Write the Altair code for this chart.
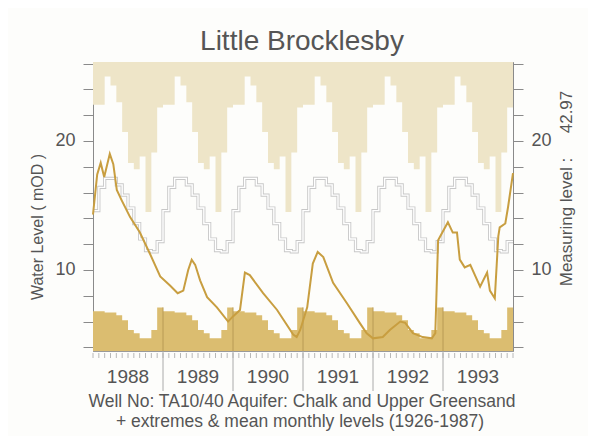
import altair as alt
import pandas as pd

# ---------------- data ----------------
years = [1988, 1989, 1990, 1991, 1992, 1993]
# long-term monthly extremes and mean (1926-1987), Jan..Dec, mOD
month_max = [22.8, 22.8, 25.0, 24.3, 23.0, 20.7, 18.3, 17.8, 18.8, 14.5, 19.1, 22.6]
month_mean = [14.6, 16.4, 17.1, 17.1, 16.6, 15.8, 14.8, 13.6, 12.4, 11.5, 11.4, 12.2]
month_min = [6.8, 6.8, 6.7, 6.7, 6.5, 6.1, 5.35, 5.1, 4.7, 4.7, 5.35, 7.1]

# observed water level 1988-1993 (decimal year, mOD)
level_t = [1988.00, 1988.06, 1988.11, 1988.16, 1988.24, 1988.29, 1988.34, 1988.41,
           1988.53, 1988.67, 1988.81, 1988.96, 1989.10, 1989.21, 1989.29, 1989.36,
           1989.41, 1989.46, 1989.53, 1989.63, 1989.77, 1989.93, 1990.00, 1990.10,
           1990.17, 1990.24, 1990.43, 1990.63, 1990.86, 1990.91, 1990.96, 1991.06,
           1991.14, 1991.21, 1991.29, 1991.43, 1991.63, 1991.81, 1991.91, 1992.00,
           1992.14, 1992.24, 1992.39, 1992.46, 1992.57, 1992.71, 1992.84, 1992.89,
           1992.93, 1992.99, 1993.07, 1993.14, 1993.20, 1993.24, 1993.31, 1993.39,
           1993.53, 1993.63, 1993.67, 1993.74, 1993.79, 1993.81, 1993.89, 1993.93,
           1994.00]
level_v = [14.3, 17.4, 18.3, 17.2, 19.0, 18.2, 16.2, 15.4,
           14.1, 12.9, 11.3, 9.5, 8.8, 8.2, 8.4, 10.0,
           10.8, 10.4, 9.2, 7.9, 7.1, 6.0, 6.4, 6.9,
           9.8, 9.6, 8.2, 6.9, 5.0, 4.8, 5.35, 7.1,
           10.5, 11.4, 11.0, 9.0, 7.4, 5.9, 5.1, 4.7,
           4.8, 5.35, 6.0, 5.9, 5.1, 4.8, 4.7, 5.1,
           12.3, 12.9, 13.7, 12.9, 12.9, 10.8, 10.2, 10.4,
           8.7, 9.8, 8.4, 7.8, 12.6, 13.3, 13.6, 14.9,
           17.5]

y_domain = [3.72, 26.12]

title_text = "Little Brocklesby"
caption1 = "Well No: TA10/40  Aquifer: Chalk and Upper Greensand"
caption2 = "+ extremes & mean monthly levels (1926-1987)"
left_title = "Water Level  ( mOD )"
right_title_a = "Measuring level :"
right_title_b = "42.97"

# ---------------- tables ----------------
rows = []
for y in years:
    for m in range(12):
        rows.append({"t": y + m / 12, "max": month_max[m], "mean": month_mean[m],
                     "min": month_min[m]})
rows.append({"t": years[-1] + 1, "max": month_max[-1], "mean": month_mean[-1],
             "min": month_min[-1]})
monthly = pd.DataFrame(rows)
monthly["top"] = y_domain[1]
monthly["bot"] = y_domain[0]

level = pd.DataFrame({"t": level_t, "v": level_v})
year_df = pd.DataFrame({"mid": [y + 0.5 for y in years], "label": [str(y) for y in years]})
sep_df = pd.DataFrame({"t": years[1:], "min": [month_min[-1]] * (len(years) - 1),
                       "bot": [y_domain[0]] * (len(years) - 1)})
month_ticks = pd.DataFrame({"t": [years[0] + k / 12 for k in range(len(years) * 12 + 1)]})

W, H = 420, 289
FONT = "Liberation Sans"
TXT = "#555555"
TAN = "#EEE5C8"
GOLD_AREA = "#DBBD70"
GOLD_LINE = "#C89E40"

xs = alt.Scale(domain=[1988, 1994], nice=False, zero=False)
ys = alt.Scale(domain=y_domain, nice=False, zero=False)

tick_vals = list(range(4, 27, 2))


def yaxis(orient):
    return alt.Axis(orient=orient, values=tick_vals,
                    labelExpr="datum.value % 10 === 0 ? datum.value : ''",
                    tickSize=10, labelFontSize=18, labelPadding=8, labelFont=FONT,
                    labelColor=TXT, domainColor="#8a8a8a", tickColor="#8a8a8a",
                    grid=False, title=None)


X = alt.X("t:Q", scale=xs, axis=None)

max_area = alt.Chart(monthly).mark_area(interpolate="step-after", color=TAN).encode(
    x=X,
    y=alt.Y("max:Q", scale=ys, axis=yaxis("left")),
    y2="top:Q",
)

min_area = alt.Chart(monthly).mark_area(interpolate="step-after", color=GOLD_AREA).encode(
    x=X,
    y=alt.Y("min:Q", scale=ys, axis=None),
    y2="bot:Q",
)

seps_in = alt.Chart(sep_df).mark_rule(color="#b89a55", strokeWidth=1).encode(
    x=X,
    y=alt.Y("min:Q", scale=ys, axis=None),
    y2="bot:Q",
)

mean_outer = alt.Chart(monthly).mark_line(interpolate="step-after", color="#c8c8c8",
                                          strokeWidth=3.2).encode(
    x=X, y=alt.Y("mean:Q", scale=ys, axis=None))
mean_inner = alt.Chart(monthly).mark_line(interpolate="step-after", color="#ffffff",
                                          strokeWidth=1.4).encode(
    x=X, y=alt.Y("mean:Q", scale=ys, axis=None))

level_line = alt.Chart(level).mark_line(color=GOLD_LINE, strokeWidth=2).encode(
    x=X,
    y=alt.Y("v:Q", scale=ys, axis=yaxis("right")),
)

mticks = alt.Chart(month_ticks).mark_rule(color="#b8b8b8", strokeWidth=1).encode(
    x=X, y=alt.value(H + 2), y2=alt.value(H + 7))

yseps = alt.Chart(sep_df).mark_rule(color="#aaaaaa", strokeWidth=1).encode(
    x=X, y=alt.value(H), y2=alt.value(H + 40))

year_labels = alt.Chart(year_df).mark_text(fontSize=19, font=FONT, color=TXT,
                                           baseline="middle").encode(
    x=alt.X("mid:Q", scale=xs, axis=None),
    y=alt.value(H + 26),
    text="label:N",
)

one = pd.DataFrame({"a": [0]})


def label(txt, x, y, size, angle=0):
    return alt.Chart(one).mark_text(fontSize=size, font=FONT, color=TXT, align="center",
                                    baseline="middle", angle=angle).encode(
        x=alt.value(x), y=alt.value(y), text=alt.value(txt))


texts = [
    label(title_text, 209, -20, 28),
    label(caption1, 209, H + 51, 17.5),
    label(caption2, 207, H + 71, 17.5),
    label(left_title, -55, 165, 16, 270),
    label(right_title_a, 474, 160, 17, 270),
    label(right_title_b, 474, 50, 17, 270),
]

chart = alt.layer(max_area, min_area, seps_in, mean_outer, mean_inner, level_line,
                  mticks, yseps, year_labels, *texts).resolve_scale(
    y="independent"
).properties(
    width=W, height=H,
    autosize=alt.AutoSizeParams(type="none"),
    padding={"left": 85, "top": 54, "right": 75, "bottom": 85},
    background="#fdfdfb",
).configure_view(stroke="#9a9a9a", strokeWidth=1)

chart.save("out.html", embed_options={"renderer": "svg", "actions": False})
